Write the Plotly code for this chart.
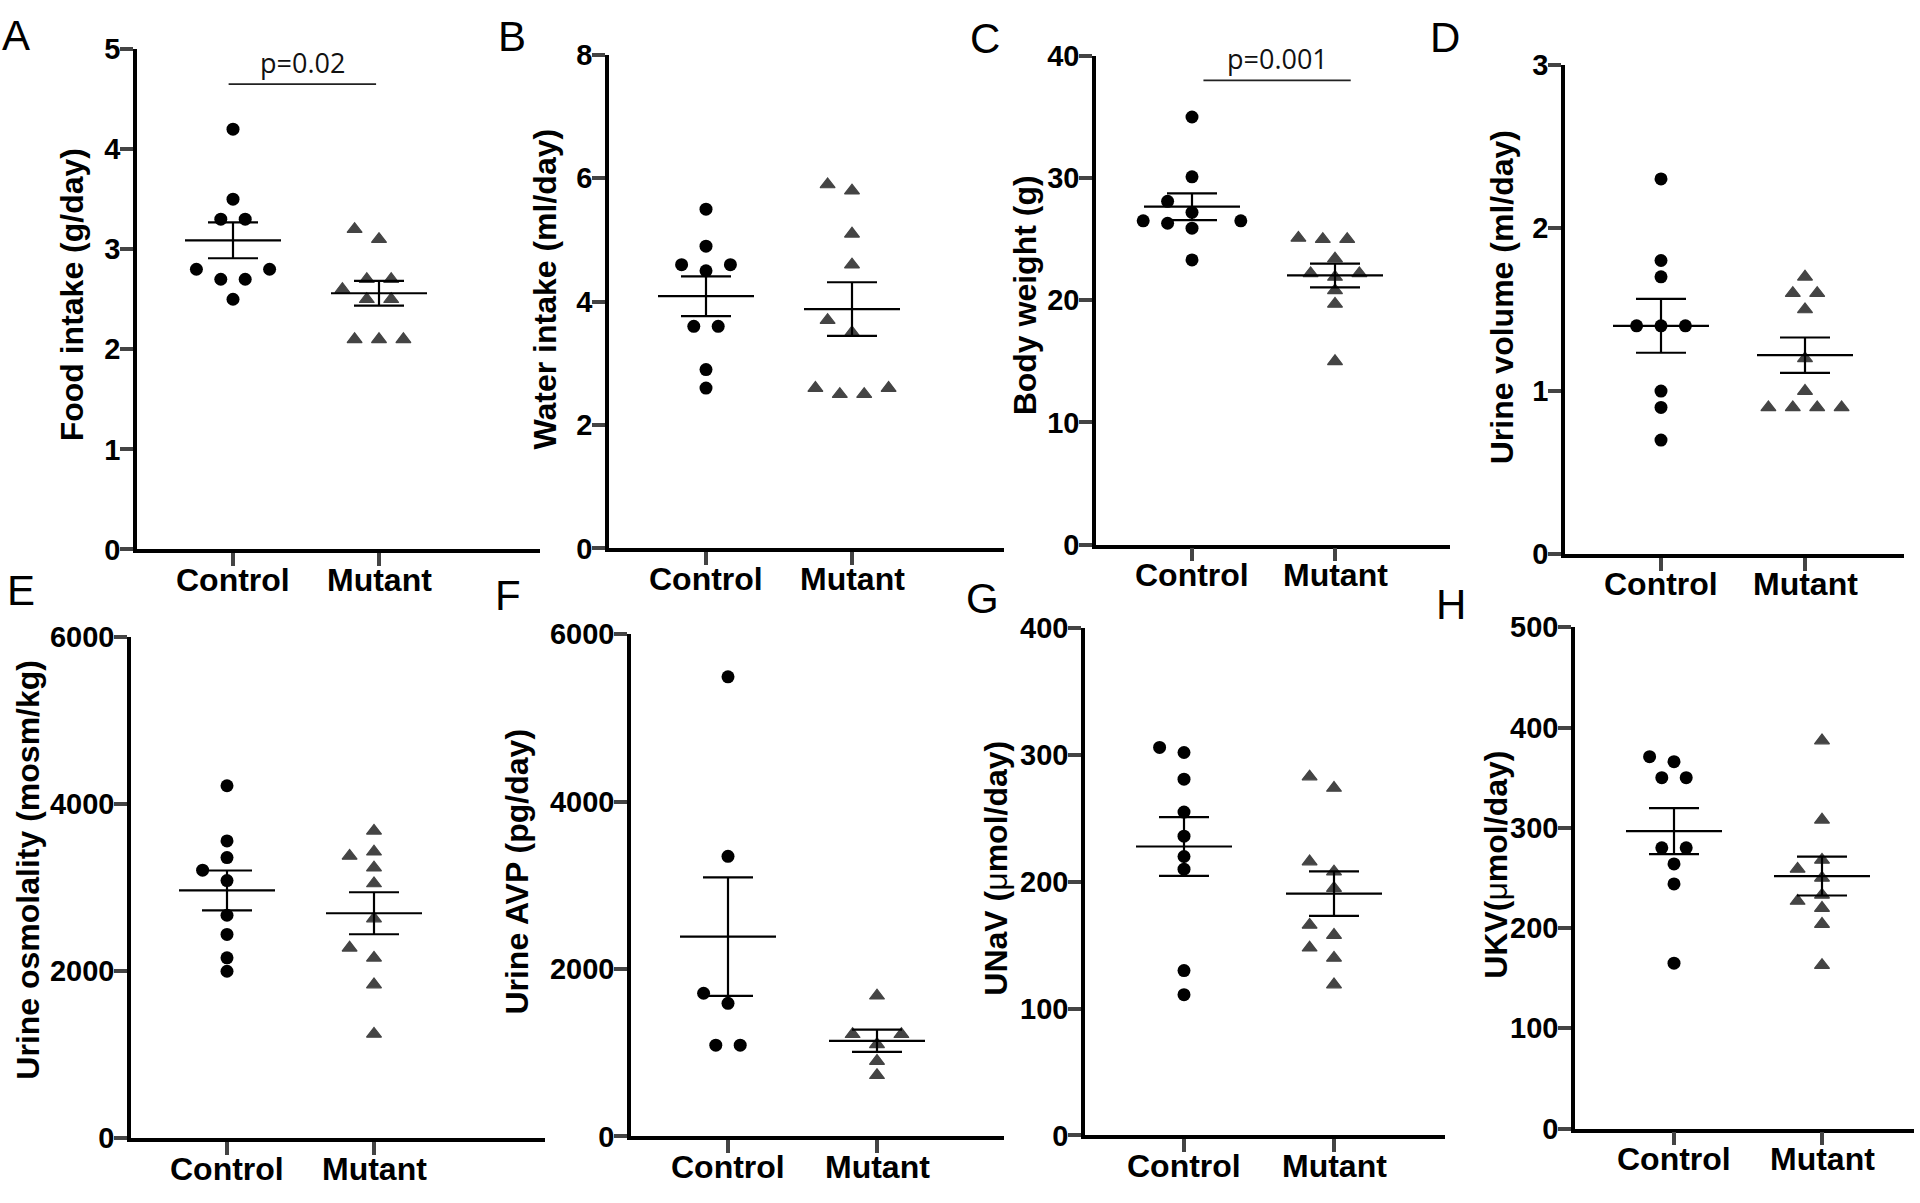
import numpy as np
import plotly.graph_objects as go

W, H = 1920, 1203

categories = ["Control", "Mutant"]

# values (one list per group)
food_control = [4.2, 3.5, 3.3, 3.3, 2.8, 2.8, 2.7, 2.7, 2.5]
food_mutant = [3.2, 3.1, 2.7, 2.7, 2.6, 2.5, 2.5, 2.1, 2.1, 2.1]
water_control = [5.5, 4.9, 4.6, 4.6, 4.5, 3.6, 3.6, 2.9, 2.6]
water_mutant = [5.9, 5.8, 5.1, 4.6, 3.7, 3.5, 2.6, 2.6, 2.5, 2.5]
weight_control = [35.0, 30.1, 28.1, 27.2, 26.5, 26.5, 26.3, 25.9, 23.3]
weight_mutant = [25.1, 25.0, 25.0, 23.4, 22.2, 22.2, 21.9, 20.8, 19.7, 15.0]
urine_vol_control = [2.3, 1.8, 1.7, 1.4, 1.4, 1.4, 1.0, 0.9, 0.7]
urine_vol_mutant = [1.7, 1.6, 1.6, 1.5, 1.2, 1.0, 0.9, 0.9, 0.9, 0.9]
osmo_control = [4220, 3560, 3360, 3210, 3085, 2670, 2440, 2160, 2000]
osmo_mutant = [3680, 3430, 3380, 3240, 3050, 2630, 2280, 2160, 1840, 1250]
avp_control = [5490, 3345, 1710, 1590, 1090, 1090]
avp_mutant = [1680, 1220, 1220, 1100, 900, 730]
unav_control = [306, 302, 281, 255, 236, 220, 210, 130, 111]
unav_mutant = [283, 274, 216, 208, 195, 166, 158, 148, 140, 119]
ukv_control = [371, 366, 350, 350, 280, 280, 264, 244, 165]
ukv_mutant = [387, 308, 268, 259, 250, 233, 227, 220, 204, 163]

# letter, y title, control, mutant, y max, tick step
panels = [
    ("A", "<b>Food intake (g/day)</b>", food_control, food_mutant, 5, 1),
    ("B", "<b>Water intake (ml/day)</b>", water_control, water_mutant, 8, 2),
    ("C", "<b>Body weight (g)</b>", weight_control, weight_mutant, 40, 10),
    ("D", "<b>Urine volume (ml/day)</b>", urine_vol_control, urine_vol_mutant, 3, 1),
    ("E", "<b>Urine osmolality (mosm/kg)</b>", osmo_control, osmo_mutant, 6000, 2000),
    ("F", "<b>Urine AVP (pg/day)</b>", avp_control, avp_mutant, 6000, 2000),
    ("G", "<b>UNaV (</b>\u03bc<b>mol/day)</b>", unav_control, unav_mutant, 400, 100),
    ("H", "<b>UKV(</b>\u03bc<b>mol/day)</b>", ukv_control, ukv_mutant, 500, 100),
]

# significance labels: text, bar height, bar start/end (category units), text height
significance = {
    "A": ("p=0.02", 4.65, -0.03, 0.98, 4.87),
    "C": ("p=0.001", 38.0, 0.08, 1.11, 39.8),
}

# pixel frame per panel: y-axis x, x-axis end, top, bottom, control tick, mutant tick
frames = {
    "A": (137, 540, 34, 548, 233, 379),
    "B": (609, 1004, 40, 547, 706, 852),
    "C": (1096, 1450, 41, 543, 1192, 1335),
    "D": (1565, 1904, 50, 553, 1661, 1805),
    "E": (131, 545, 638, 1153, 227, 374),
    "F": (631, 1004, 635, 1151, 728, 877),
    "G": (1085, 1445, 629, 1150, 1184, 1334),
    "H": (1575, 1914, 628, 1143, 1674, 1822),
}
# panel letter centres and y-title centres (pixels)
letter_pos = {"A": (16, 20), "B": (512, 21), "C": (985, 23), "D": (1445, 22),
              "E": (21, 590), "F": (508, 595), "G": (982, 598), "H": (1451, 605)}
title_pos = {"A": (72, 287), "B": (545, 281), "C": (1025, 287), "D": (1502, 289),
             "E": (28, 877), "F": (517, 879), "G": (996, 876), "H": (1496, 872)}

STEP = 24.4   # horizontal spacing of scattered points, px
DIAM = 13     # marker size, px
FONT = "Liberation Sans, Arial, sans-serif"


def swarm(values, px_per_unit):
    # GraphPad-like scatter: ties spread symmetrically, neighbours pushed out
    vals = np.asarray(values, float)
    offs = np.zeros(len(vals))
    placed = []
    for v in sorted(set(vals)):
        idx = [i for i in range(len(vals)) if vals[i] == v]
        n = len(idx)
        y = v * px_per_unit
        if n == 1:
            cands = [[0.0]] + [[s * k] for k in (0.5, 1, 1.5, 2, 2.5, 3) for s in (-1, 1)]
        else:
            base = [i - (n - 1) / 2 for i in range(n)]
            cands = [[b + np.sign(b) * 0.5 * k for b in base] for k in range(8)]
        for c in cands:
            if all(abs(o - p) >= 0.95 or abs(y - yy) >= DIAM for o in c for p, yy in placed):
                break
        for i, o in zip(idx, c):
            offs[i] = o
            placed.append((o, y))
    return offs


fig = go.Figure()
bold = dict(family=FONT, weight="bold", color="black")

for n, (letter, ytitle, ctrl, mut, ymax, dtick) in enumerate(panels, start=1):
    left, right, top, bottom, cx, mx = frames[letter]
    sp = mx - cx
    xr = [-(cx - left) / sp, 1 + (right - mx) / sp]
    ppu = (bottom - top) / ymax
    sfx = "" if n == 1 else str(n)

    for gi, (vals, sym, col) in enumerate([(ctrl, "circle", "black"),
                                           (mut, "triangle-up", "#444444")]):
        offs = swarm(vals, ppu) * STEP / sp
        fig.add_trace(go.Scatter(
            x=gi + offs, y=vals, mode="markers", xaxis="x" + sfx, yaxis="y" + sfx,
            marker=dict(symbol=sym, size=DIAM, color=col,
                        line=dict(width=0 if sym == "circle" else 1.2, color=col)),
            hoverinfo="y", showlegend=False))
        m = np.mean(vals)
        sem = np.std(vals, ddof=1) / np.sqrt(len(vals))
        hw, cw = 48 / sp, 25 / sp
        fig.add_trace(go.Scatter(
            x=[gi - hw, gi + hw, None, gi, gi, None, gi - cw, gi + cw, None, gi - cw, gi + cw],
            y=[m, m, None, m - sem, m + sem, None, m + sem, m + sem, None, m - sem, m - sem],
            mode="lines", line=dict(color="black", width=2.2), xaxis="x" + sfx, yaxis="y" + sfx,
            hoverinfo="skip", showlegend=False))

        # category label under its tick
        fig.add_annotation(x=gi, y=1 - (bottom + 31) / H, xref="x" + sfx, yref="paper",
                           text=categories[gi], showarrow=False, xanchor="center",
                           yanchor="middle", font=dict(size=32, **bold))

    fig.update_layout(**{
        "xaxis" + sfx: dict(
            domain=[left / W, right / W], anchor="y" + sfx, range=xr,
            tickvals=[0, 1], showticklabels=False, ticks="outside", ticklen=13, tickwidth=3.5,
            showline=True, linewidth=3.5, linecolor="black", showgrid=False, zeroline=False,
            fixedrange=True),
        "yaxis" + sfx: dict(
            domain=[1 - bottom / H, 1 - top / H], anchor="x" + sfx, range=[0, ymax],
            tickvals=list(np.arange(0, ymax + dtick / 2, dtick)), ticks="outside", ticklen=13,
            tickwidth=3.5, showline=True, linewidth=3.5, linecolor="black", showgrid=False,
            zeroline=False, tickfont=dict(size=29, **bold), ticklabelstandoff=-6,
            fixedrange=True),
    })

    lx, ly = letter_pos[letter]
    fig.add_annotation(x=lx / W, y=1 - ly / H, xref="paper", yref="paper", text=letter,
                       showarrow=False, xanchor="center", yanchor="middle",
                       font=dict(family=FONT, size=42, color="black"))
    tx, ty = title_pos[letter]
    fig.add_annotation(x=tx / W, y=1 - ty / H, xref="paper", yref="paper", text=ytitle,
                       textangle=-90, showarrow=False, xanchor="center", yanchor="middle",
                       font=dict(family=FONT, size=32, color="black"))

    if letter in significance:
        txt, yb, x0, x1, yt = significance[letter]
        fig.add_shape(type="line", x0=x0, x1=x1, y0=yb, y1=yb, xref="x" + sfx, yref="y" + sfx,
                      line=dict(color="#222222", width=1.8))
        fig.add_annotation(x=(x0 + x1) / 2, y=yt, xref="x" + sfx, yref="y" + sfx, text=txt,
                           showarrow=False, xanchor="center", yanchor="middle",
                           font=dict(family="Open Sans, sans-serif", size=27, color="#111111"))

fig.update_layout(width=W, height=H, margin=dict(l=0, r=0, t=0, b=0),
                  plot_bgcolor="white", paper_bgcolor="white", showlegend=False)

fig.write_html("out.html", config={"displayModeBar": False},
               post_script="document.body.style.margin='0';document.body.style.overflow='hidden';")
